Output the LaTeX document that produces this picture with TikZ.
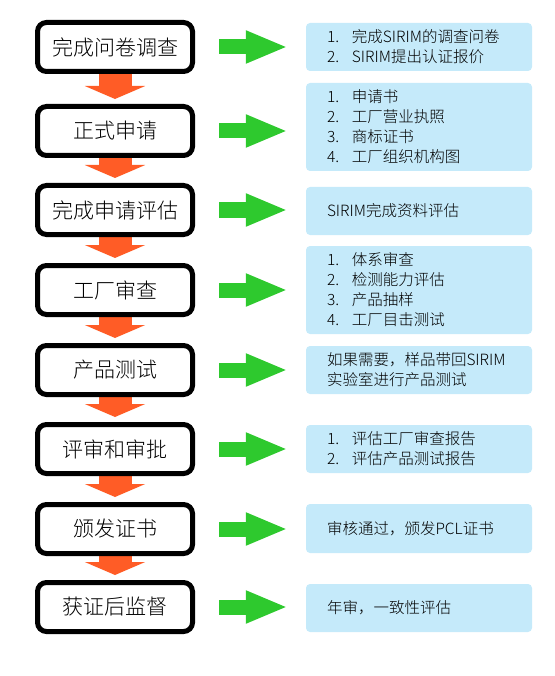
\documentclass[tikz,border=0pt]{standalone}
\usepackage{fontspec}
\setmainfont{Noto Sans CJK SC Light}
\usetikzlibrary{arrows.meta,backgrounds}
\definecolor{infoblue}{RGB}{197,234,250}
\definecolor{gogreen}{RGB}{46,201,46}
\definecolor{downorange}{RGB}{255,92,38}
\newcommand\itemno[1]{\makebox[25pt][l]{#1}}
\begin{document}
\begin{tikzpicture}[x=1pt,y=-1pt,
  stage/.style={draw=black, line width=5pt, rounded corners=9pt, fill=white,
    minimum width=155pt, minimum height=49pt, inner sep=0pt,
    font=\fontsize{21}{24}\selectfont},
  info/.style={fill=infoblue, rounded corners=4pt, minimum width=226pt, inner sep=0pt},
  infotext/.style={anchor=west, align=left, inner sep=0pt,
    font=\fontsize{15.5}{20}\selectfont},
  downarrow/.style={draw=downorange, line width=33pt,
    -{Triangle[length=13pt,width=60pt]}, shorten >=5pt},
  goarrow/.style={draw=gogreen, line width=15pt,
    -{Triangle[length=42pt,width=30pt]}, shorten <=24pt, shorten >=18pt}]
\useasboundingbox (0,0) rectangle (554,676);

% stages
\node[stage] (s1) at (115,47)  {完成问卷调查};
\node[stage] (s2) at (115,131) {正式申请};
\node[stage] (s3) at (115,210) {完成申请评估};
\node[stage] (s4) at (115,290) {工厂审查};
\node[stage] (s5) at (115,370) {产品测试};
\node[stage] (s6) at (115,449) {评审和审批};
\node[stage] (s7) at (115,529) {颁发证书};
\node[stage] (s8) at (115,607) {获证后监督};

% info boxes
\node[info, minimum height=48pt] (b1) at (419,47)  {};
\node[info, minimum height=88pt] (b2) at (419,127) {};
\node[info, minimum height=48pt] (b3) at (419,211) {};
\node[info, minimum height=88pt] (b4) at (419,290) {};
\node[info, minimum height=48pt] (b5) at (419,370) {};
\node[info, minimum height=48pt] (b6) at (419,449) {};
\node[info, minimum height=49pt] (b7) at (419,528.5) {};
\node[info, minimum height=48pt] (b8) at (419,608) {};

\node[infotext] (t1) at ([xshift=21pt]b1.west) {\itemno{1.}完成SIRIM的调查问卷\\\itemno{2.}SIRIM提出认证报价};
\node[infotext] (t2) at ([xshift=21pt]b2.west) {\itemno{1.}申请书\\\itemno{2.}工厂营业执照\\\itemno{3.}商标证书\\\itemno{4.}工厂组织机构图};
\node[infotext] (t3) at ([xshift=21pt]b3.west) {SIRIM完成资料评估};
\node[infotext] (t4) at ([xshift=21pt]b4.west) {\itemno{1.}体系审查\\\itemno{2.}检测能力评估\\\itemno{3.}产品抽样\\\itemno{4.}工厂目击测试};
\node[infotext] (t5) at ([xshift=21pt]b5.west) {如果需要，样品带回SIRIM\\实验室进行产品测试};
\node[infotext] (t6) at ([xshift=21pt]b6.west) {\itemno{1.}评估工厂审查报告\\\itemno{2.}评估产品测试报告};
\node[infotext] (t7) at ([xshift=21pt]b7.west) {审核通过，颁发PCL证书};
\node[infotext] (t8) at ([xshift=21pt]b8.west) {年审，一致性评估};

\begin{scope}[on background layer]
  \draw[downarrow] (s1.south) -- (s2.north);
  \draw[downarrow] (s2.south) -- (s3.north);
  \draw[downarrow] (s3.south) -- (s4.north);
  \draw[downarrow] (s4.south) -- (s5.north);
  \draw[downarrow] (s5.south) -- (s6.north);
  \draw[downarrow] (s6.south) -- (s7.north);
  \draw[downarrow] (s7.south) -- (s8.north);
\end{scope}

\foreach \i in {1,...,8}{
  \draw[goarrow] (s\i.east) -- (s\i.east -| b\i.west);
}
\end{tikzpicture}
\end{document}
